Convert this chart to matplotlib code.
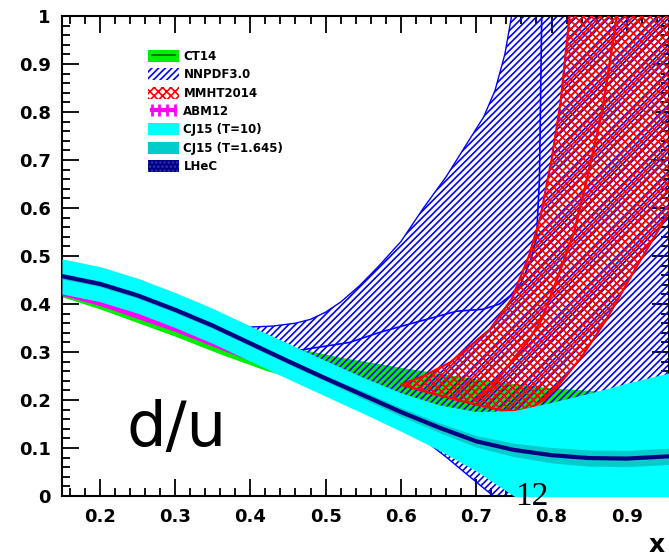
import matplotlib
matplotlib.use("Agg")
import matplotlib.pyplot as plt
from matplotlib.patches import Patch
from matplotlib.lines import Line2D
from matplotlib.ticker import MultipleLocator, FuncFormatter

# d/u ratio vs x for several PDF sets plus the LHeC projection

# common x grid for the LHeC and CJ15 curves
grid_x = [0.15, 0.2, 0.25, 0.3, 0.35, 0.4, 0.45, 0.5, 0.55, 0.6, 0.65, 0.7, 0.75, 0.8, 0.85, 0.9, 0.96]

# LHeC central curve
lhec_y = [0.458, 0.442, 0.418, 0.388, 0.355, 0.318, 0.281, 0.245, 0.21, 0.175, 0.143, 0.114, 0.096,
          0.085, 0.079, 0.078, 0.083]

# CJ15 (T=10) band
cj_hi = [0.494, 0.478, 0.454, 0.424, 0.391, 0.354, 0.318, 0.282, 0.247, 0.215, 0.19, 0.176, 0.178,
         0.195, 0.214, 0.235, 0.258]
cj_lo = [0.421, 0.405, 0.381, 0.351, 0.318, 0.281, 0.244, 0.208, 0.172, 0.135, 0.096, 0.052, 0.0,
         -0.04, -0.06, -0.08, -0.09]

# CJ15 (T=1.645) band
cj2_hi = [0.464, 0.448, 0.424, 0.394, 0.361, 0.324, 0.287, 0.251, 0.218, 0.184, 0.153, 0.126, 0.11,
          0.101, 0.096, 0.095, 0.1]
cj2_lo = [0.452, 0.436, 0.412, 0.382, 0.349, 0.312, 0.275, 0.239, 0.202, 0.166, 0.133, 0.102, 0.082,
          0.069, 0.062, 0.061, 0.066]

# CT14 band
ct_x = [0.15, 0.2, 0.3, 0.36, 0.42, 0.48, 0.52, 0.6, 0.705, 0.795, 0.868, 0.96]
ct_hi = [0.44, 0.42, 0.37, 0.345, 0.32, 0.302, 0.289, 0.268, 0.243, 0.226, 0.218, 0.21]
ct_lo = [0.415, 0.39, 0.333, 0.296, 0.262, 0.235, 0.22, 0.195, 0.165, 0.155, 0.15, 0.145]

# ABM12 band
abm_x = [0.15, 0.2, 0.3, 0.36, 0.42, 0.5, 0.6, 0.7, 0.8, 0.9, 0.96]
abm_hi = [0.428, 0.41, 0.358, 0.322, 0.285, 0.24, 0.195, 0.16, 0.14, 0.13, 0.125]
abm_lo = [0.418, 0.397, 0.343, 0.306, 0.27, 0.226, 0.183, 0.15, 0.13, 0.12, 0.115]

# NNPDF3.0 band edges and central curve
nn_up_x = [0.15, 0.3, 0.4, 0.43, 0.46, 0.48, 0.5, 0.52, 0.545, 0.57, 0.6, 0.63, 0.66, 0.69, 0.71,
           0.725, 0.738, 0.747, 0.8, 0.97]
nn_up_y = [0.45, 0.375, 0.352, 0.354, 0.36, 0.368, 0.383, 0.404, 0.438, 0.478, 0.53, 0.6, 0.665,
           0.74, 0.79, 0.845, 0.92, 1.0, 1.4, 1.6]
nn_lo_x = [0.15, 0.2, 0.3, 0.4, 0.5, 0.6, 0.63, 0.661, 0.69, 0.718, 0.75, 0.8, 0.9, 0.97]
nn_lo_y = [0.44, 0.415, 0.36, 0.295, 0.225, 0.15, 0.118, 0.08, 0.042, 0.006, -0.05, -0.15, -0.25, -0.3]
nn_c_x = [0.15, 0.3, 0.45, 0.532, 0.572, 0.62, 0.674, 0.709, 0.731, 0.745, 0.76, 0.772, 0.78, 0.784, 0.787]
nn_c_y = [0.43, 0.365, 0.30, 0.32, 0.341, 0.362, 0.385, 0.389, 0.40, 0.417, 0.445, 0.49, 0.536, 0.66, 1.0]

# MMHT2014 band edges and central curve
mm_up_x = [0.6, 0.63, 0.665, 0.69, 0.718, 0.747, 0.77, 0.785, 0.8, 0.812, 0.824, 0.9, 0.97]
mm_up_y = [0.232, 0.25, 0.278, 0.31, 0.347, 0.41, 0.5, 0.58, 0.7, 0.82, 1.0, 1.6, 1.8]
mm_lo_x = [0.6, 0.64, 0.68, 0.72, 0.745, 0.771, 0.79, 0.807, 0.84, 0.873, 0.91, 0.948, 0.97]
mm_lo_y = [0.232, 0.214, 0.198, 0.183, 0.176, 0.182, 0.2, 0.226, 0.29, 0.368, 0.47, 0.57, 0.63]
mm_c_x = [0.70, 0.72, 0.749, 0.77, 0.787, 0.807, 0.83, 0.847, 0.867, 0.887, 0.91]
mm_c_y = [0.20, 0.225, 0.285, 0.325, 0.368, 0.45, 0.55, 0.66, 0.8, 1.0, 1.2]

# Colours
c_ct = "#00ee00"
c_nn = "#0000ff"
c_mm = "#ff0000"
c_abm = "#ff00ff"
c_cj = "#00ffff"
c_cj2 = "#00cccc"
c_lhec = "#000080"

plt.rcParams["hatch.linewidth"] = 1.2
plt.rcParams["font.family"] = ["DejaVu Sans"]

hatch_nn = "/////"
hatch_mm = "xxxx"


def closed_band(ax, xu, yu, xl, yl, **kw):
    # polygon running along the upper edge and back along the lower edge
    xs = list(xu) + list(xl)[::-1]
    ys = list(yu) + list(yl)[::-1]
    return ax.fill(xs, ys, **kw)[0]


fig = plt.figure(figsize=(6.69, 5.59), dpi=100)
W, H = 669, 559
ax = fig.add_axes([62 / W, (H - 496) / H, (W - 62) / W, (496 - 16) / H])

# CT14 (solid green)
ax.fill_between(ct_x, ct_lo, ct_hi, color=c_ct, lw=0, zorder=1)

# NNPDF3.0 (blue hatch)
closed_band(ax, nn_up_x, nn_up_y, nn_lo_x, nn_lo_y, facecolor="none",
            edgecolor=c_nn, hatch=hatch_nn, lw=1.0, zorder=2)
ax.plot(nn_c_x, nn_c_y, color=c_nn, lw=1.2, zorder=2)

# MMHT2014 (red cross hatch)
closed_band(ax, mm_up_x, mm_up_y, mm_lo_x, mm_lo_y, facecolor="none",
            edgecolor=c_mm, hatch=hatch_mm, lw=1.6, zorder=3)
ax.plot(mm_c_x, mm_c_y, color=c_mm, lw=1.8, zorder=3)

# ABM12
ax.fill_between(abm_x, abm_lo, abm_hi, color=c_abm, lw=0, zorder=4)

# CJ15 bands
ax.fill_between(grid_x, cj_lo, cj_hi, color=c_cj, lw=0, zorder=5)
ax.fill_between(grid_x, cj2_lo, cj2_hi, color=c_cj2, lw=0, zorder=6)

# LHeC
ax.plot(grid_x, lhec_y, color=c_lhec, lw=3, zorder=7, solid_capstyle="butt")

ax.set_xlim(0.15, 0.956)
ax.set_ylim(0, 1)

# ROOT-style frame: ticks inside on all four sides
for s in ax.spines.values():
    s.set_linewidth(1.5)
ax.xaxis.set_major_locator(MultipleLocator(0.1))
ax.xaxis.set_minor_locator(MultipleLocator(0.02))
ax.yaxis.set_major_locator(MultipleLocator(0.1))
ax.yaxis.set_minor_locator(MultipleLocator(0.02))
fmt = FuncFormatter(lambda v, p: "%g" % round(v, 2))
ax.xaxis.set_major_formatter(fmt)
ax.yaxis.set_major_formatter(fmt)
ax.tick_params(which="both", direction="in", top=True, right=True, width=1.3)
ax.tick_params(which="major", length=12, labelsize=13)
ax.tick_params(axis="x", which="major", pad=9)
ax.tick_params(axis="y", which="major", pad=8)
ax.tick_params(which="minor", length=6)
for lab in ax.get_xticklabels() + ax.get_yticklabels():
    lab.set_fontweight("bold")

# Legend
handles = [
    (Patch(facecolor=c_ct, edgecolor=c_ct, lw=0), Line2D([], [], color="#006400", lw=1.2)),
    Patch(facecolor="white", edgecolor=c_nn, hatch=hatch_nn, lw=0),
    Patch(facecolor="white", edgecolor=c_mm, hatch=hatch_mm, lw=0),
    Line2D([], [], color=c_abm, lw=3, marker="|", markersize=9, mew=2),
    Patch(facecolor=c_cj, lw=0),
    Patch(facecolor=c_cj2, lw=0),
    Patch(facecolor=c_lhec, edgecolor="#3030c0", hatch="....", lw=0),
]
labels = ["CT14", "NNPDF3.0", "MMHT2014", "ABM12", "CJ15 (T=10)", "CJ15 (T=1.645)", "LHeC"]
leg = ax.legend(handles, labels, loc="upper left",
                bbox_to_anchor=(148 / W, 1 - 50 / H), bbox_transform=fig.transFigure,
                frameon=False, borderpad=0, borderaxespad=0, handlelength=2.6,
                handleheight=1.2, handletextpad=0.4, labelspacing=0.45,
                numpoints=4, prop={"size": 8.5, "weight": "bold"})
leg.set_zorder(10)

# Labels
ax.text(0.235, 0.105, "d/u", fontsize=45, zorder=11)
fig.text(515 / W, 1 - 505 / H, "12", fontsize=24, family="Liberation Serif", zorder=11)
fig.text(649 / W, 1 - 552 / H, "x", fontsize=18, fontweight="bold", va="baseline")

fig.savefig("out.png", dpi=100)
